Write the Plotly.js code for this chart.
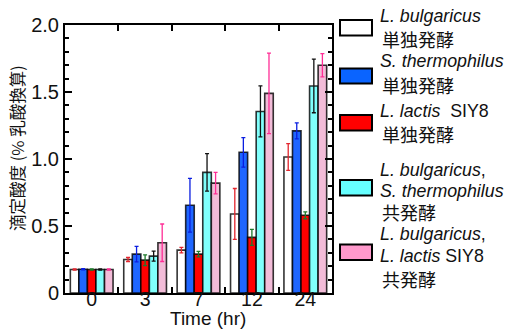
<!DOCTYPE html>
<html>
<head>
<meta charset="utf-8">
<script src="https://cdn.plot.ly/plotly-3.0.1.min.js"></script>
<style>html,body{margin:0;padding:0;background:#fff;}#chart{width:508px;height:329px;}</style>
</head>
<body>
<div id="chart"></div>
<script>
var categories = ['0', '3', '7', '12', '24'];
var yTickVals = [0, 0.5, 1.0, 1.5, 2.0];
var yTickText = ['0', '0.5', '1.0', '1.5', '2.0'];

var lbMono = [0.175, 0.25, 0.32, 0.59, 1.015];
var lbMonoErr = [0.005, 0.015, 0.02, 0.19, 0.1];
var stMono = [0.177, 0.29, 0.655, 1.05, 1.21];
var stMonoErr = [0.005, 0.058, 0.2, 0.11, 0.06];
var llMono = [0.175, 0.245, 0.29, 0.415, 0.58];
var llMonoErr = [0.005, 0.04, 0.02, 0.06, 0.026];
var lbStCo = [0.175, 0.275, 0.90, 1.355, 1.545];
var lbStCoErr = [0.005, 0.037, 0.14, 0.19, 0.2];
var lbLlCo = [0.175, 0.375, 0.82, 1.49, 1.70];
var lbLlCoErr = [0.005, 0.14, 0.08, 0.3, 0.087];

var legendLines = [
  ['<i>L. bulgaricus</i>', '単独発酵'],
  ['<i>S. thermophilus</i>', '単独発酵'],
  ['<i>L. lactis</i>  SIY8', '単独発酵'],
  ['<i>L. bulgaricus</i>,', '<i>S. thermophilus</i>', '共発酵'],
  ['<i>L. bulgaricus</i>,', '<i>L. lactis</i> SIY8', '共発酵']
];

var FONT = 'Liberation Sans, Arial, Noto Sans CJK JP, sans-serif';
var CJK = 'Noto Sans CJK JP, sans-serif';
var barColors = ['#ffffff', '#1f66ff', '#ff0000', '#80fffc', '#f2bcd8'];
var legendColors = ['#ffffff', '#0a64ff', '#ff0000', '#66ffff', '#ff99cc'];
var errColors = ['#e3262e', '#0a1ee0', '#1d7a2a', '#111111', '#ff2e96'];
var series = [lbMono, stMono, llMono, lbStCo, lbLlCo];
var errs = [lbMonoErr, stMonoErr, llMonoErr, lbStCoErr, lbLlCoErr];

var traces = series.map(function (vals, i) {
  return {
    type: 'bar', x: categories, y: vals,
    marker: {color: barColors[i], line: {color: 'rgba(0,0,0,0.8)', width: 1.6}},
    error_y: {type: 'data', array: errs[i], visible: true, color: errColors[i], thickness: 1.3, width: 2},
    showlegend: false, hoverinfo: 'none'
  };
});

// pixel helpers for the plot area (l=65, r=332, t=25, b=293)
function px(x) { return (x - 65) / 267; }
function py(y) { return (293 - y) / 268; }

var shapes = [];
var annotations = [];
var boxY = [[20, 35.5], [68.5, 83.5], [115, 130.5], [180, 195.5], [244.5, 260]];
var lineY = [[16, 39], [61, 85], [111, 134], [170, 191, 212], [234, 256, 279]];
for (var i = 0; i < 5; i++) {
  shapes.push({type: 'rect', xref: 'paper', yref: 'paper',
    x0: px(340), x1: px(372), y0: py(boxY[i][1]), y1: py(boxY[i][0]),
    fillcolor: legendColors[i], line: {color: '#000', width: 2}});
  for (var j = 0; j < legendLines[i].length; j++) {
    var isCjk = /[\u3000-\u9fff]/.test(legendLines[i][j]);
    annotations.push({xref: 'paper', yref: 'paper', x: px(isCjk ? 380 : 378), y: py(lineY[i][j]),
      xanchor: 'left', yanchor: 'middle', showarrow: false, text: legendLines[i][j],
      font: {family: isCjk ? CJK : FONT, size: isCjk ? 18 : 17.8, color: '#111'}});
  }
}
annotations.push({xref: 'paper', yref: 'paper', x: px(208), y: py(318.5), xanchor: 'center', yanchor: 'middle',
  showarrow: false, text: 'Time (hr)', font: {family: FONT, size: 19, color: '#111'}});
annotations.push({xref: 'paper', yref: 'paper', x: px(17), y: py(148), xanchor: 'center', yanchor: 'middle',
  showarrow: false, textangle: -90, text: '滴定酸度 (% 乳酸換算)',
  font: {family: CJK, size: 16.5, color: '#111'}});

var layout = {
  width: 508, height: 329,
  margin: {l: 65, r: 176, t: 25, b: 36},
  paper_bgcolor: '#fff', plot_bgcolor: '#fff',
  barmode: 'group', bargap: 0.2, bargroupgap: 0,
  font: {family: FONT, color: '#111'},
  xaxis: {
    type: 'category', tickson: 'boundaries', ticks: 'inside', ticklen: 6, tickwidth: 2, tickcolor: '#000',
    showline: true, linecolor: '#000', linewidth: 2, mirror: 'ticks', showgrid: false, zeroline: false,
    tickfont: {family: FONT, size: 19.5, color: '#111'}, ticklabelstandoff: -12, fixedrange: true
  },
  yaxis: {
    range: [0, 2.0], tickvals: yTickVals, ticktext: yTickText,
    ticks: 'inside', ticklen: 7, tickwidth: 2, tickcolor: '#000',
    showline: true, linecolor: '#000', linewidth: 2, mirror: 'ticks', showgrid: false, zeroline: false,
    tickfont: {family: FONT, size: 20, color: '#111'},
    minor: {dtick: 0.1, ticks: 'inside', ticklen: 4, tickwidth: 2, tickcolor: '#000', showgrid: false},
    fixedrange: true
  },
  shapes: shapes,
  annotations: annotations
};

Plotly.newPlot('chart', traces, layout, {staticPlot: true, displayModeBar: false});
</script>
</body>
</html>
